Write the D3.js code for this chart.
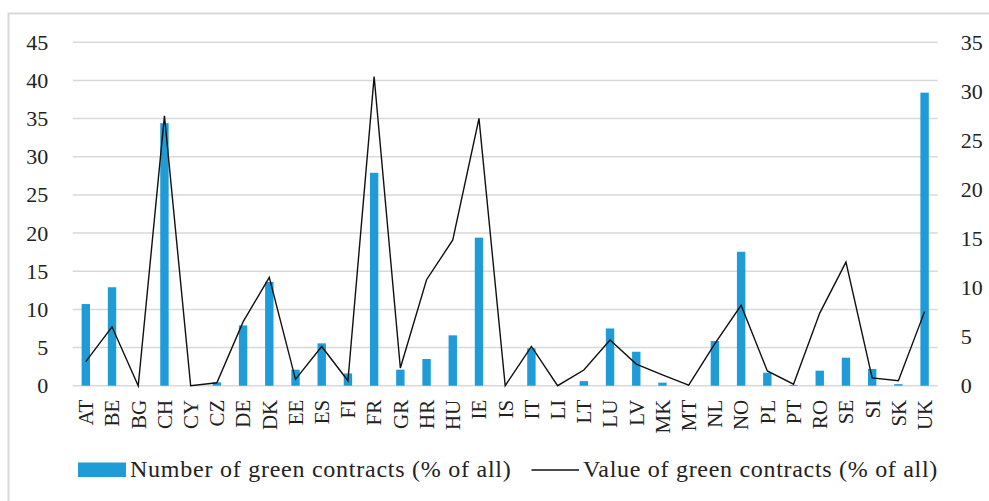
<!DOCTYPE html>
<html><head><meta charset="utf-8">
<script src="https://cdn.jsdelivr.net/npm/d3@7/dist/d3.min.js"></script>
<style>
body{margin:0;background:#fff;}
svg text{font-family:"Liberation Serif","DejaVu Serif",serif !important;fill:#222;}
</style></head>
<body><svg id="c" width="989" height="501"></svg>
<script>
const countries = ["AT","BE","BG","CH","CY","CZ","DE","DK","EE","ES","FI","FR","GR","HR","HU","IE","IS","IT","LI","LT","LU","LV","MK","MT","NL","NO","PL","PT","RO","SE","SI","SK","UK"];
const numberShare = [10.7,12.9,0,34.4,0,0.45,7.9,13.6,2.1,5.55,1.6,27.9,2.1,3.5,6.6,19.4,0,4.9,0,0.6,7.5,4.45,0.4,0,5.85,17.55,1.7,0.1,1.97,3.67,2.2,0.2,38.4];
const valueShare = [2.45,6.0,0,27.5,0,0.3,6.5,11.05,0.65,4.0,0.5,31.5,1.8,10.8,14.85,27.25,0,4.0,0,1.6,4.65,2.2,1.1,0.05,4.3,8.2,1.5,0.15,7.4,12.6,0.8,0.5,7.55];
const leftTicks = [0,5,10,15,20,25,30,35,40,45];
const rightTicks = [0,5,10,15,20,25,30,35];
const seriesNames = ["Number of green contracts (% of all)","Value of green contracts (% of all)"];

const svg = d3.select("#c");
const L = 72.7, R = 937.7, T = 42.3, B = 385.7;
const x = d3.scaleBand().domain(countries).range([L,R]).paddingInner(0.68).paddingOuter(0.34);
const yL = d3.scaleLinear().domain([0,45]).range([B,T]);
const yR = d3.scaleLinear().domain([0,35]).range([B,T]);

// outer frame
svg.append("path").attr("d","M8.5,501 V13.5 H989").attr("fill","none").attr("stroke","#d9d9d9").attr("stroke-width",2);

// gridlines
svg.append("g").selectAll("line").data(leftTicks).join("line")
  .attr("x1",L).attr("x2",R).attr("y1",d=>yL(d)).attr("y2",d=>yL(d))
  .attr("stroke","#d9d9d9").attr("stroke-width",1.5);

// left axis
const gl = svg.append("g").attr("transform",`translate(${L},0)`)
  .call(d3.axisLeft(yL).tickValues(leftTicks).tickSize(0).tickPadding(24.5));
gl.attr("font-family",null).attr("font-size",null);
gl.select(".domain").remove();
gl.selectAll("text").style("font-size","22px").attr("dy","0.32em");

// right axis
const gr = svg.append("g").attr("transform",`translate(${R},0)`)
  .call(d3.axisRight(yR).tickValues(rightTicks).tickSize(0).tickPadding(23));
gr.attr("font-family",null).attr("font-size",null);
gr.select(".domain").remove();
gr.selectAll("text").style("font-size","22px").attr("dy","0.32em");

// bars
svg.append("g").selectAll("rect").data(countries).join("rect")
  .attr("x",d=>x(d)).attr("width",x.bandwidth())
  .attr("y",(d,i)=>yL(numberShare[i])).attr("height",(d,i)=>B-yL(numberShare[i]))
  .attr("fill","#1f9bd7");

// line
const line = d3.line().x((d,i)=>x(countries[i])+x.bandwidth()/2).y(d=>yR(d));
svg.append("path").datum(valueShare).attr("d",line)
  .attr("fill","none").attr("stroke","#111").attr("stroke-width",1.4).attr("stroke-linejoin","miter");

// x labels
const gx = svg.append("g").attr("transform",`translate(0,${B})`)
  .call(d3.axisBottom(x).tickSize(0).tickPadding(0));
gx.attr("font-family",null).attr("font-size",null);
gx.select(".domain").remove();
gx.selectAll("text")
  .attr("transform","rotate(-90)").attr("text-anchor","end")
  .attr("x",-14).attr("y",0).attr("dy","0.35em")
  .style("font-size","21px");

// legend
const lg = svg.append("g");
lg.append("rect").attr("x",78).attr("y",462.5).attr("width",48).attr("height",14.5).attr("fill","#1f9bd7");
lg.append("text").attr("x",130).attr("y",477).text(seriesNames[0]).style("font-size","24px").style("letter-spacing","0.75px");
lg.append("line").attr("x1",531.5).attr("x2",579).attr("y1",470).attr("y2",470).attr("stroke","#111").attr("stroke-width",1.6);
lg.append("text").attr("x",583).attr("y",477).text(seriesNames[1]).style("font-size","24px").style("letter-spacing","0.7px");
</script></body></html>
